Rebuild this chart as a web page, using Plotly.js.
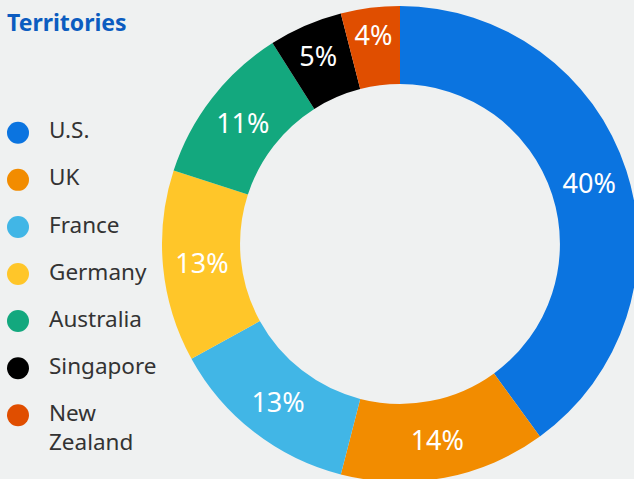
<!DOCTYPE html>
<html>
<head>
<meta charset="utf-8">
<script src="https://cdn.plot.ly/plotly-3.0.1.min.js"></script>
<style>
  html, body { margin: 0; padding: 0; background: #eff1f1; overflow: hidden; }
  #chart { width: 700px; height: 500px; }
</style>
</head>
<body>
<div id="chart"></div>
<script>
var territories = ['U.S.', 'UK', 'France', 'Germany', 'Australia', 'Singapore', 'New Zealand'];
var shares = [40, 14, 13, 13, 11, 5, 4];
var colors = ['#0b74e0', '#f28c00', '#41b6e6', '#ffc629', '#13a87e', '#000000', '#e04e00'];

var font = '"Noto Sans", "Open Sans", sans-serif';

// the donut
var donut = {
  type: 'pie',
  labels: territories,
  values: shares,
  sort: false,
  direction: 'clockwise',
  rotation: 0,
  hole: 0.672,
  marker: {colors: colors, line: {width: 0}},
  textinfo: 'percent',
  textposition: 'inside',
  insidetextorientation: 'horizontal',
  textfont: {family: font, size: 27, color: '#ffffff'},
  domain: {x: [162 / 700, 638 / 700], y: [18 / 500, 494 / 500]},
  hoverinfo: 'label+percent',
  showlegend: false
};

// legend drawn as a column of dots plus names; a two-word name wraps under the dot
var legendText = territories.map(function (t) {
  return t.indexOf(' ') > -1 ? '<br>' + t.replace(' ', '<br>') : t;
});

var dots = {
  type: 'scatter',
  mode: 'markers',
  x: territories.map(function () { return 0; }),
  y: territories,
  marker: {color: colors, size: 22, symbol: 'circle'},
  hoverinfo: 'skip',
  showlegend: false,
  cliponaxis: false
};

var names = {
  type: 'scatter',
  mode: 'text',
  x: territories.map(function () { return 31; }),
  y: territories,
  text: legendText,
  textposition: 'middle right',
  textfont: {family: font, size: 22.5, color: '#333333'},
  hoverinfo: 'skip',
  showlegend: false,
  cliponaxis: false
};

var layout = {
  width: 700,
  height: 500,
  margin: {l: 0, r: 0, t: 0, b: 0},
  paper_bgcolor: '#eff1f1',
  plot_bgcolor: 'rgba(0,0,0,0)',
  title: {
    text: '<b>Territories</b>',
    font: {family: font, size: 23, color: '#0b5cc0'},
    x: 7 / 700, xanchor: 'left',
    y: 1 - 23 / 500, yanchor: 'middle'
  },
  xaxis: {visible: false, domain: [0, 100 / 700], range: [-18, 82], fixedrange: true},
  yaxis: {visible: false, type: 'category', domain: [0, 1], range: [7.8, -2.82], fixedrange: true},
  font: {family: font}
};

Plotly.newPlot('chart', [donut, dots, names], layout, {displayModeBar: false, staticPlot: true});
</script>
</body>
</html>
